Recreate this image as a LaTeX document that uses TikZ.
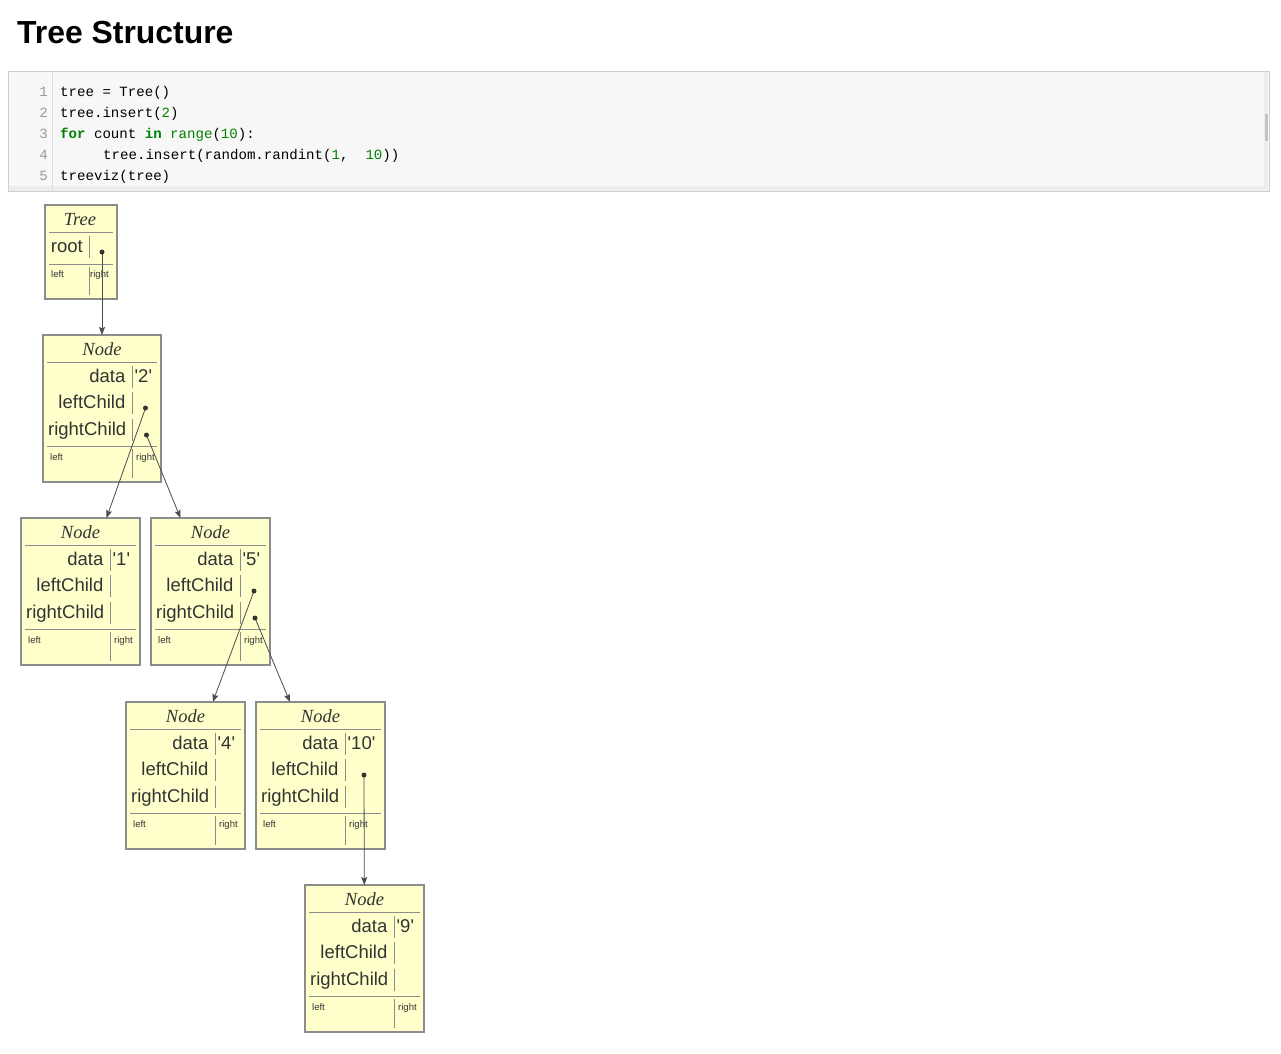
\documentclass[tikz,border=0pt]{standalone}
\usepackage{fontspec}
\setmainfont{Liberation Sans}
\setmonofont{Liberation Mono}
\newfontfamily\recserif{Liberation Serif}
\usetikzlibrary{arrows.meta}

\definecolor{recfill}{HTML}{FFFFCC}
\definecolor{recedge}{HTML}{8C8C8C}
\definecolor{rectext}{HTML}{333333}
\definecolor{cellbg}{HTML}{F7F7F7}
\definecolor{cellborder}{HTML}{CFCFCF}
\definecolor{codegreen}{HTML}{008000}
\definecolor{gutter}{HTML}{999999}

\tikzset{
  recbox/.style={draw=recedge, fill=recfill, line width=1.3pt, inner sep=0pt, outer sep=0pt, anchor=north west},
  recline/.style={draw=recedge, line width=0.9pt},
  rectitle/.style={font=\recserif\itshape\fontsize{18.5}{20}\selectfont, text=rectext, anchor=base, inner sep=0pt},
  reclabel/.style={font=\fontsize{18.5}{20}\selectfont, text=rectext, anchor=base east, inner sep=0pt},
  recvalue/.style={font=\fontsize{18.5}{20}\selectfont, text=rectext, anchor=base west, inner sep=0pt},
  recport/.style={font=\fontsize{9.5}{10}\selectfont, text=rectext, anchor=base west, inner sep=0pt},
  recdot/.style={circle, fill=rectext, inner sep=0pt, minimum size=5pt},
  link/.style={-{Stealth[length=8pt, width=6pt, inset=1.5pt]}, draw=black!70, line width=0.8pt},
  codeline/.style={font=\ttfamily\fontsize{14.1}{16}\selectfont, anchor=base west, inner sep=0pt},
  lineno/.style={font=\ttfamily\fontsize{14.1}{16}\selectfont, text=gutter, anchor=base east, inner sep=0pt},
}

\newcommand{\kw}[1]{{\color{codegreen}\bfseries #1}}
\newcommand{\gr}[1]{{\color{codegreen}#1}}

\newcommand{\nodeBox}[5]{%
  \begin{scope}[shift={(#2, #3)}]%
    \def\boxwidth{#4}
    \node[recbox, minimum width=#4pt, minimum height=147pt] (#1) at (0, 0) {};
    \draw[recline] (4, 27) -- (\boxwidth-4, 27);
    \draw[recline] (4, 111) -- (\boxwidth-4, 111);

    \node[rectitle] (#1-title) at (\boxwidth/2, 20) {Node};
    \node[reclabel] (#1-data) at (82.5, 47.5) {data};
    \node[reclabel] (#1-lc) at (82.5, 73.5) {leftChild};
    \node[reclabel] (#1-rc) at (83.5, 100.5) {rightChild};
    \node[recvalue] (#1-val) at (91.5, 47.5) {\textquotesingle#5\textquotesingle};

    \draw[recline] (89, 31) -- (89, 53);
    \draw[recline] (89, 57) -- (89, 79);
    \draw[recline] (89, 84) -- (89, 106);
    \draw[recline] (89, 114) -- (89, 143);

    \node[recport] (#1-left) at (7, 125) {left};
    \node[recport] (#1-right) at (93, 125) {right};

    \coordinate (#1-l) at ({(85+\boxwidth)/2 + 1}, 73);
    \coordinate (#1-r) at ({(85+\boxwidth)/2 + 2}, 100);
  \end{scope}%
}

\begin{document}
\begin{tikzpicture}[x=1pt, y=-1pt]
  \fill[white] (0, 0) rectangle (1281, 1053);
  \useasboundingbox (0, 0) rectangle (1281, 1053);

  % Title and code cell
  \node[font=\bfseries\fontsize{31.9}{36}\selectfont, anchor=base west, inner sep=0pt] (title) at (17, 43) {Tree Structure};

  \draw[cellborder, fill=cellbg, line width=1pt] (8, 71) rectangle (1269, 191);
  \fill[black!7] (9, 186) rectangle (1268, 190.5);
  \fill[black!7] (1263.5, 72) rectangle (1268, 190.5);
  \fill[black!24] (1264.5, 114) rectangle (1267.5, 141);
  \draw[black!13, line width=0.8pt] (52, 72) -- (52, 190.5);

  \foreach \n [count=\i] in {96, 117, 138, 159, 180}
    \node[lineno] (num\i) at (48, \n) {\i};

  \node[codeline] (code1) at (60, 96) {tree = Tree()};
  \node[codeline] (code2) at (60, 117) {tree.insert(\gr{2})};
  \node[codeline] (code3) at (60, 138) {\kw{for} count \kw{in} \gr{range}(\gr{10}):};
  \node[codeline] (code4) at (103, 159) {tree.insert(random.randint(\gr{1},\ \ \gr{10}))};
  \node[codeline] (code5) at (60, 180) {treeviz(tree)};

  % Tree record
  \begin{scope}[shift={(45, 205)}]
    \node[recbox, minimum width=72pt, minimum height=94pt] (tree) at (0, 0) {};
    \draw[recline] (4, 27) -- (68, 27);
    \draw[recline] (4, 59) -- (68, 59);
    \node[rectitle] (tree-title) at (35, 20) {Tree};
    \node[reclabel] (tree-root) at (38, 47) {root};
    \draw[recline] (44, 31) -- (44, 53);
    \draw[recline] (44, 62) -- (44, 90);
    \node[recport] (tree-left) at (6, 72) {left};
    \node[recport] (tree-right) at (45, 72) {right};
    \coordinate (tree-p) at (57, 47);
  \end{scope}

  % Node records
  \nodeBox{n2}{43}{335}{118}{2}
  \nodeBox{n1}{21}{518}{119}{1}
  \nodeBox{n5}{151}{518}{119}{5}
  \nodeBox{n4}{126}{702}{119}{4}
  \nodeBox{n10}{256}{702}{129}{10}
  \nodeBox{n9}{305}{885}{119}{9}

  % Pointers
  \draw[link] (tree-p) -- (n2);
  \draw[link] (n2-l) -- (n1);
  \draw[link] (n2-r) -- (n5);
  \draw[link] (n5-l) -- (n4);
  \draw[link] (n5-r) -- (n10);
  \draw[link] (n10-l) -- (n9);

  \foreach \p in {tree-p, n2-l, n2-r, n5-l, n5-r, n10-l}
    \node[recdot] (\p-dot) at (\p) {};
\end{tikzpicture}
\end{document}
